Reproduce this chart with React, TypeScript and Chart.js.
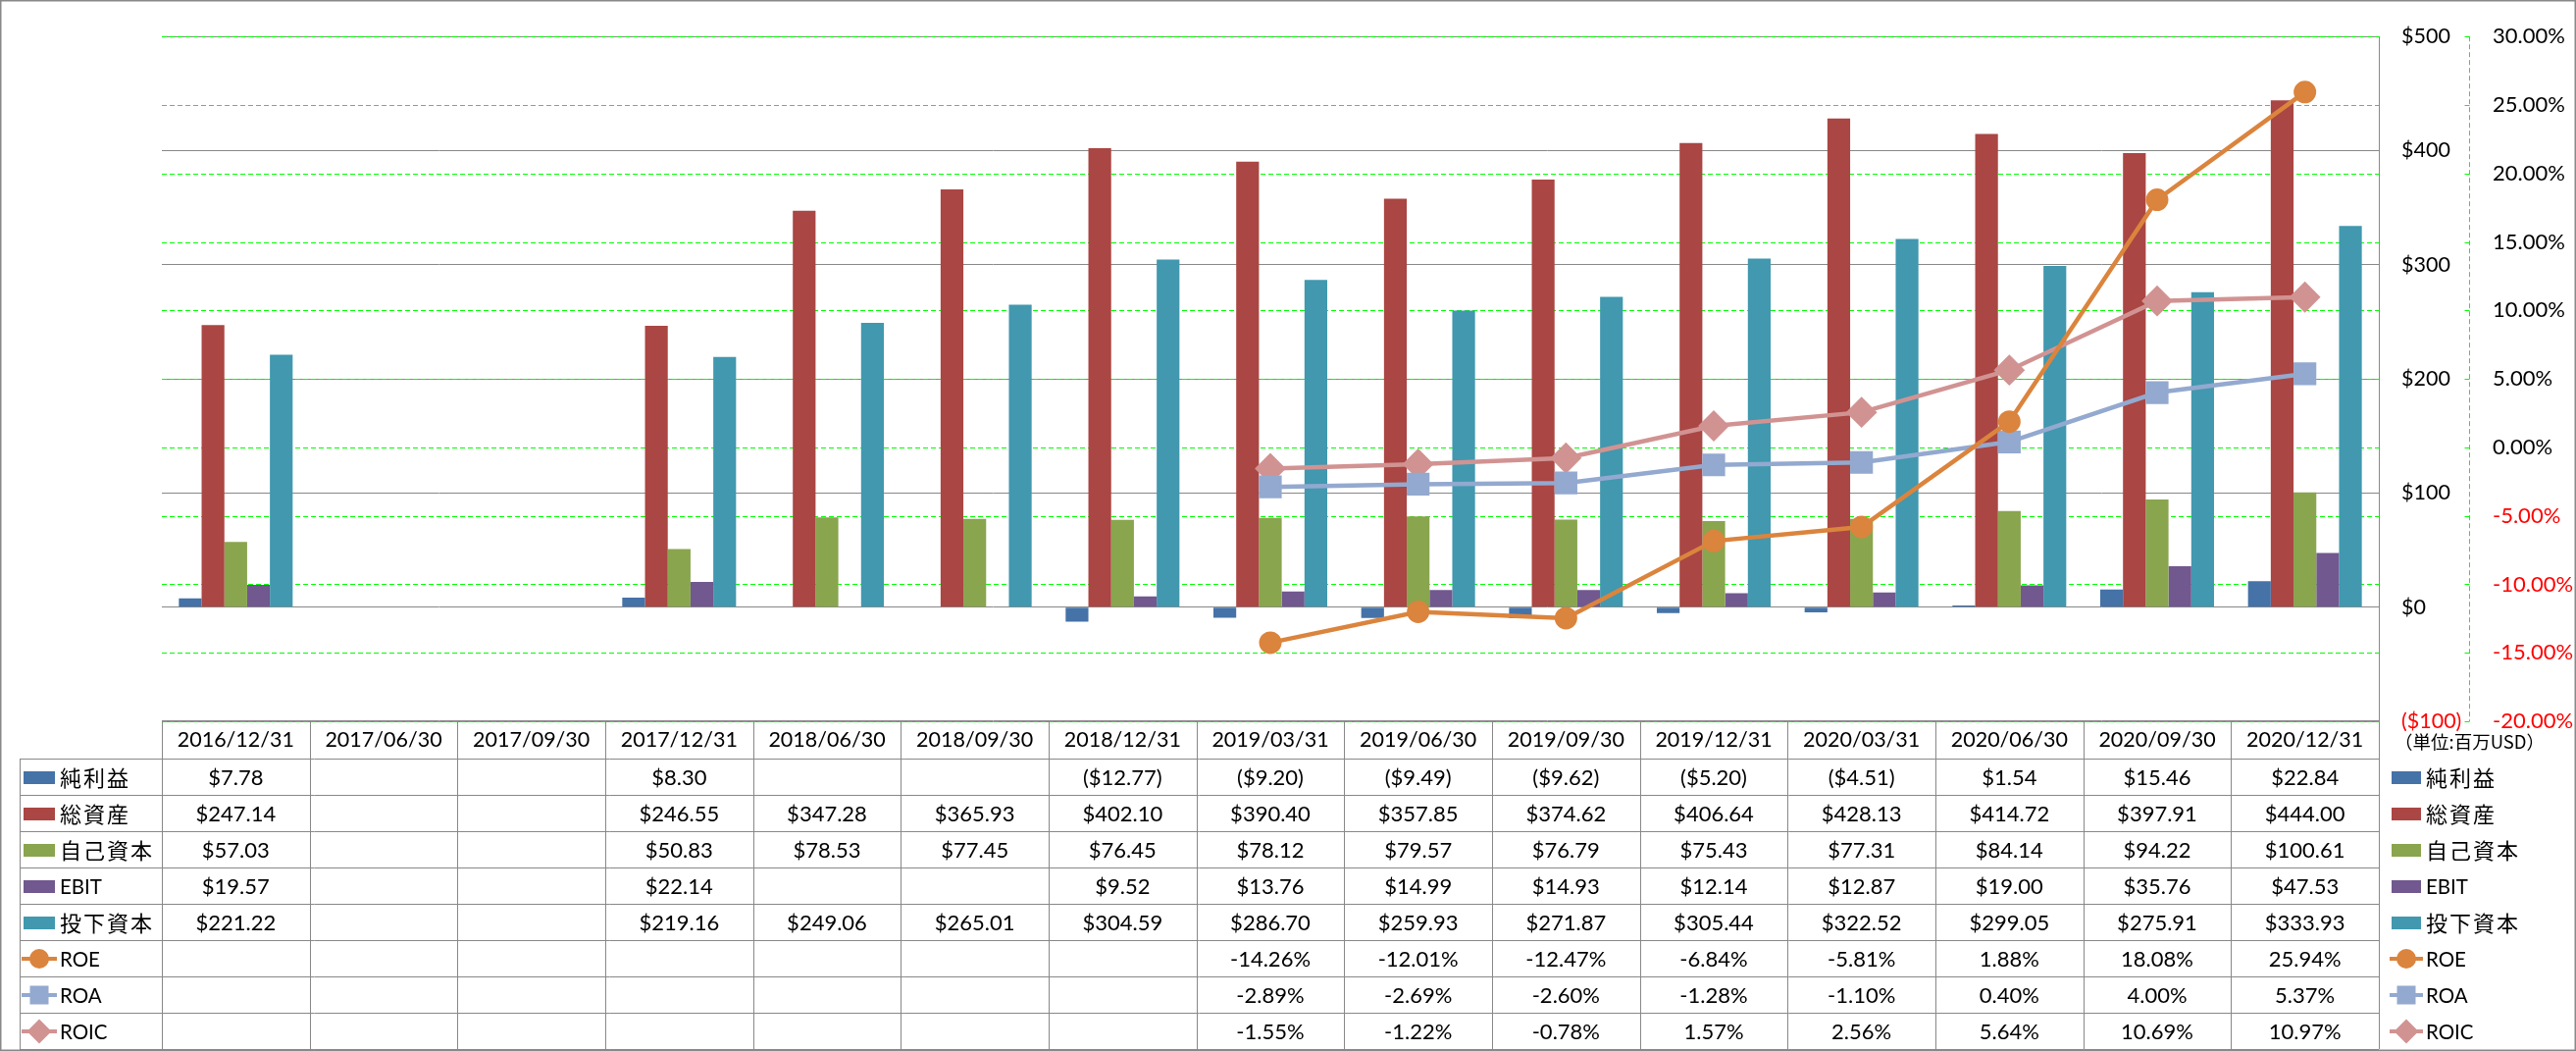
import React, { useEffect, useRef } from 'react';
import { Chart, registerables } from 'chart.js';

Chart.register(...registerables);

// ---------- data ----------
const categories = [
  '2016/12/31', '2017/06/30', '2017/09/30', '2017/12/31', '2018/06/30',
  '2018/09/30', '2018/12/31', '2019/03/31', '2019/06/30', '2019/09/30',
  '2019/12/31', '2020/03/31', '2020/06/30', '2020/09/30', '2020/12/31',
];
const netIncome = [7.78, null, null, 8.30, null, null, -12.77, -9.20, -9.49, -9.62, -5.20, -4.51, 1.54, 15.46, 22.84];
const totalAssets = [247.14, null, null, 246.55, 347.28, 365.93, 402.10, 390.40, 357.85, 374.62, 406.64, 428.13, 414.72, 397.91, 444.00];
const equity = [57.03, null, null, 50.83, 78.53, 77.45, 76.45, 78.12, 79.57, 76.79, 75.43, 77.31, 84.14, 94.22, 100.61];
const ebit = [19.57, null, null, 22.14, null, null, 9.52, 13.76, 14.99, 14.93, 12.14, 12.87, 19.00, 35.76, 47.53];
const investedCapital = [221.22, null, null, 219.16, 249.06, 265.01, 304.59, 286.70, 259.93, 271.87, 305.44, 322.52, 299.05, 275.91, 333.93];
const roe = [null, null, null, null, null, null, null, -14.26, -12.01, -12.47, -6.84, -5.81, 1.88, 18.08, 25.94];
const roa = [null, null, null, null, null, null, null, -2.89, -2.69, -2.60, -1.28, -1.10, 0.40, 4.00, 5.37];
const roic = [null, null, null, null, null, null, null, -1.55, -1.22, -0.78, 1.57, 2.56, 5.64, 10.69, 10.97];

const moneyAxis = { min: -100, max: 500, step: 100 };
const pctAxis = { min: -20, max: 30, step: 5 };
const unitLabel = '（単位:百万USD）';

const barSeries = [
  { label: '純利益', data: netIncome, color: '#4572A7' },
  { label: '総資産', data: totalAssets, color: '#AA4643' },
  { label: '自己資本', data: equity, color: '#89A54E' },
  { label: 'EBIT', data: ebit, color: '#71588F' },
  { label: '投下資本', data: investedCapital, color: '#4198AF' },
];
const lineSeries = [
  { label: 'ROE', data: roe, color: '#DB843D', point: 'circle', radius: 10.5 },
  { label: 'ROA', data: roa, color: '#93A9CF', point: 'rect', radius: 15 },
  { label: 'ROIC', data: roic, color: '#D19392', point: 'rectRot', radius: 14.5 },
];

const FONT = "Lato, 'Noto Sans CJK JP', sans-serif";
const CJK_FONT = "'Noto Sans CJK JP', Lato, sans-serif";
const LINE_GRAY = '#888888';
const GRID_GREEN = '#00FF00';

const fmtMoney = (v: number | null) =>
  v == null ? '' : v < 0 ? `($${(-v).toFixed(2)})` : `$${v.toFixed(2)}`;
const fmtPct = (v: number | null) => (v == null ? '' : `${v.toFixed(2)}%`);

function drawMarker(ctx: CanvasRenderingContext2D, style: string, cx: number, cy: number, r: number, color: string) {
  ctx.save();
  ctx.fillStyle = color;
  ctx.beginPath();
  if (style === 'circle') {
    ctx.arc(cx, cy, r, 0, Math.PI * 2);
  } else if (style === 'rect') {
    const h = r * 0.95;
    ctx.rect(cx - h, cy - h, h * 2, h * 2);
  } else {
    const d = r * 1.25;
    ctx.moveTo(cx, cy - d);
    ctx.lineTo(cx + d, cy);
    ctx.lineTo(cx, cy + d);
    ctx.lineTo(cx - d, cy);
    ctx.closePath();
  }
  ctx.fill();
  ctx.restore();
}

function drawLegendSymbol(ctx: CanvasRenderingContext2D, kind: 'bar' | 'line', s: any, x0: number, x1: number, cy: number) {
  if (kind === 'bar') {
    ctx.fillStyle = s.color;
    ctx.fillRect(x0 + 2, Math.round(cy - 6.5), x1 - x0 - 4, 13);
  } else {
    ctx.save();
    ctx.strokeStyle = s.color;
    ctx.lineWidth = 4;
    ctx.beginPath();
    ctx.moveTo(x0, cy);
    ctx.lineTo(x1, cy);
    ctx.stroke();
    ctx.restore();
    drawMarker(ctx, s.point, (x0 + x1) / 2, cy, 10, s.color);
  }
}

function drawLabel(ctx: CanvasRenderingContext2D, text: string, x: number, y: number) {
  ctx.save();
  const cjk = /[^\x00-\x7F]/.test(text);
  ctx.font = cjk ? `22px ${CJK_FONT}` : `20.5px ${FONT}`;
  (ctx as any).letterSpacing = cjk ? '2px' : '0px';
  ctx.fillStyle = '#000';
  ctx.textAlign = 'left';
  ctx.textBaseline = 'middle';
  ctx.fillText(text, x, y);
  ctx.restore();
}

const greenGridPlugin = {
  id: 'greenGrid',
  beforeDatasetsDraw(chart: any) {
    const ctx: CanvasRenderingContext2D = chart.ctx;
    const area = chart.chartArea;
    const y1 = chart.scales.y1;
    ctx.save();
    ctx.strokeStyle = GRID_GREEN;
    ctx.lineWidth = 1;
    ctx.setLineDash([5, 3]);
    y1.ticks.forEach((t: any) => {
      const py = Math.round(y1.getPixelForValue(t.value)) + 0.5;
      ctx.beginPath();
      ctx.moveTo(area.left, py);
      ctx.lineTo(area.right, py);
      ctx.stroke();
    });
    ctx.restore();
  },
};

const tablePlugin = {
  id: 'dataTable',
  afterDraw(chart: any) {
    const ctx: CanvasRenderingContext2D = chart.ctx;
    const area = chart.chartArea;
    const xs = chart.scales.x;
    const y1 = chart.scales.y1;
    const n = categories.length;
    const colW = (area.right - area.left) / n;
    const legendLeft = 20;
    const top = Math.round(area.bottom) - 1;
    const headerH = 39;
    const rowH = 37;
    const rows = [
      ...barSeries.map((s) => ({ kind: 'bar' as const, s, fmt: fmtMoney })),
      ...lineSeries.map((s) => ({ kind: 'line' as const, s, fmt: fmtPct })),
    ];
    const bottom = top + headerH + rowH * rows.length;

    ctx.save();

    // secondary axis line (dashed green) with inward ticks
    const ax = Math.round(y1.left) + 0.5;
    ctx.strokeStyle = GRID_GREEN;
    ctx.lineWidth = 1;
    ctx.setLineDash([5, 3]);
    ctx.beginPath();
    ctx.moveTo(ax, area.top);
    ctx.lineTo(ax, area.bottom);
    ctx.stroke();
    ctx.setLineDash([]);
    y1.ticks.forEach((t: any) => {
      const py = Math.round(y1.getPixelForValue(t.value)) + 0.5;
      ctx.beginPath();
      ctx.moveTo(ax - 5, py);
      ctx.lineTo(ax, py);
      ctx.stroke();
    });

    // table grid
    ctx.strokeStyle = LINE_GRAY;
    ctx.lineWidth = 1;
    ctx.beginPath();
    ctx.moveTo(area.left, top + 0.5);
    ctx.lineTo(area.right, top + 0.5);
    for (let r = 0; r <= rows.length; r++) {
      const yy = top + headerH + r * rowH + 0.5;
      ctx.moveTo(legendLeft, yy);
      ctx.lineTo(area.right, yy);
    }
    ctx.moveTo(legendLeft + 0.5, top + headerH);
    ctx.lineTo(legendLeft + 0.5, bottom);
    for (let c = 0; c <= n; c++) {
      const xx = Math.round(area.left + c * colW) + 0.5;
      ctx.moveTo(xx, c === n ? area.top : top);
      ctx.lineTo(xx, bottom);
    }
    ctx.stroke();

    // header text
    ctx.fillStyle = '#000';
    ctx.textAlign = 'center';
    ctx.textBaseline = 'middle';
    ctx.font = `21.5px ${FONT}`;
    categories.forEach((c, i) => {
      ctx.fillText(c, xs.getPixelForValue(i), top + headerH / 2 + 1);
    });

    // rows
    rows.forEach((row, r) => {
      const cy = top + headerH + r * rowH + rowH / 2 + 0.5;
      drawLegendSymbol(ctx, row.kind, row.s, 22, 58, cy);
      drawLabel(ctx, row.s.label, 61, cy + 1);
      ctx.fillStyle = '#000';
      ctx.textAlign = 'center';
      ctx.textBaseline = 'middle';
      ctx.font = `22px ${FONT}`;
      row.s.data.forEach((v: number | null, i: number) => {
        const t = row.fmt(v);
        if (t) ctx.fillText(t, xs.getPixelForValue(i), cy + 1);
      });
      const rx = area.right + 11;
      drawLegendSymbol(ctx, row.kind, row.s, rx, rx + 34, cy);
      drawLabel(ctx, row.s.label, rx + 37, cy + 1);
    });

    // unit label
    ctx.font = `18.5px ${CJK_FONT}`;
    ctx.textAlign = 'left';
    ctx.textBaseline = 'middle';
    ctx.fillStyle = '#000';
    ctx.fillText(unitLabel, area.right + 16, top + headerH / 2 + 2);

    // outer frame
    ctx.strokeStyle = LINE_GRAY;
    ctx.lineWidth = 1.5;
    ctx.strokeRect(0.75, 0.75, chart.width - 1.5, chart.height - 1.5);

    ctx.restore();
  },
};

export default function App() {
  const ref = useRef<HTMLCanvasElement>(null);

  useEffect(() => {
    const canvas = ref.current;
    if (!canvas) return;
    const datasets: any[] = [
      ...barSeries.map((s) => ({
        type: 'bar',
        label: s.label,
        data: s.data,
        backgroundColor: s.color,
        borderWidth: 0,
        yAxisID: 'y',
        order: 1,
        categoryPercentage: 0.77,
        barPercentage: 1.0,
      })),
      ...lineSeries.map((s) => ({
        type: 'line',
        label: s.label,
        data: s.data,
        borderColor: s.color,
        backgroundColor: s.color,
        borderWidth: 4.5,
        pointStyle: s.point,
        pointRadius: s.radius,
        pointBorderWidth: 2,
        pointBorderColor: s.color,
        pointBackgroundColor: s.color,
        tension: 0,
        spanGaps: false,
        yAxisID: 'y1',
        order: 0,
      })),
    ];

    const chart = new Chart(canvas, {
      type: 'bar',
      data: { labels: categories, datasets },
      options: {
        responsive: false,
        animation: false,
        devicePixelRatio: 1,
        layout: { padding: { left: 165, top: 15, right: 0, bottom: 336 } },
        plugins: {
          legend: { display: false },
          tooltip: { enabled: false },
        },
        scales: {
          x: { display: false },
          y: {
            position: 'right',
            min: moneyAxis.min,
            max: moneyAxis.max,
            afterFit: (s: any) => { s.width = 92; },
            ticks: {
              stepSize: moneyAxis.step,
              padding: 23,
              autoSkip: false,
              font: { family: FONT, size: 21.5 },
              color: (c: any) => (c.tick && c.tick.value < 0 ? '#FF0000' : '#000000'),
              callback: (v: any) => (v < 0 ? `($${-v})` : `$${v}`),
            },
            grid: { color: LINE_GRAY, lineWidth: 1, drawTicks: false },
            border: { display: true, color: LINE_GRAY, width: 1 },
          },
          y1: {
            position: 'right',
            min: pctAxis.min,
            max: pctAxis.max,
            afterFit: (s: any) => { s.width = 109; },
            ticks: {
              stepSize: pctAxis.step,
              padding: 24,
              autoSkip: false,
              font: { family: FONT, size: 22 },
              color: (c: any) => (c.tick && c.tick.value < 0 ? '#FF0000' : '#000000'),
              callback: (v: any) => `${Number(v).toFixed(2)}%`,
            },
            grid: { display: false, drawTicks: false },
            border: { display: false },
          },
        },
      } as any,
      plugins: [greenGridPlugin, tablePlugin],
    } as any);
    return () => chart.destroy();
  }, []);

  return (
    <div style={{ position: 'absolute', left: 0, top: 0, width: 2626, height: 1071, background: '#ffffff' }}>
      <canvas ref={ref} width={2626} height={1071} style={{ display: 'block', width: 2626, height: 1071 }} />
    </div>
  );
}
